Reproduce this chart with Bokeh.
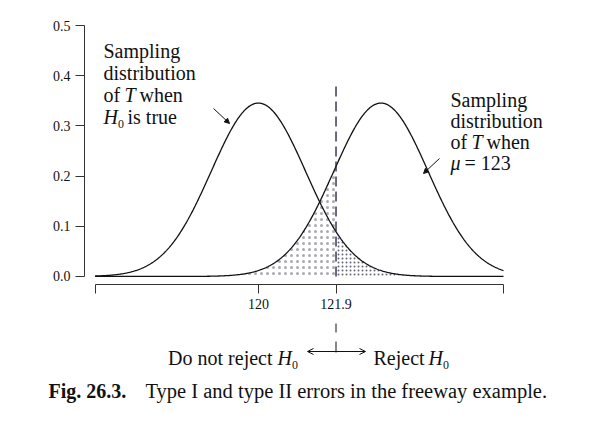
import numpy as np
from bokeh.plotting import figure
from bokeh.layouts import column
from bokeh.models import (Range1d, FixedTicker, CustomJSTickFormatter, PrintfTickFormatter,
                          Label, Arrow, OpenHead, NormalHead)
from bokeh.embed import file_html
from bokeh.resources import INLINE

# ---- data ----
means = [120.0, 123.0]          # H0 true, mu = 123
sd = 1.1547                     # sd of T (4/sqrt(12))
critical = 121.9
x_lo, x_hi = 116.0, 126.0
y_ticks = [0.0, 0.1, 0.2, 0.3, 0.4, 0.5]
x_ticks = [120.0, 121.9]
x_end_ticks = [116.0, 126.0]

FONT = "Liberation Serif"
INK = "#111111"

def pdf(x, m):
    return np.exp(-0.5 * ((x - m) / sd) ** 2) / (sd * np.sqrt(2 * np.pi))

xs = np.linspace(x_lo, x_hi, 600)
f0 = pdf(xs, means[0])
f1 = pdf(xs, means[1])

# pixel -> data helpers for annotation placement
def X(px):
    return x_lo + (px - 94.5) / 40.85

def Y(py):
    return (276.0 - py) / 501.9

p = figure(width=605, height=320, output_backend="svg", toolbar_location=None,
           x_range=Range1d(X(84), X(600)), y_range=Range1d(-0.016, 0.51),
           min_border_left=84, min_border_right=5, min_border_top=20, min_border_bottom=36)
p.frame_align = False
p.outline_line_color = None
p.xgrid.visible = False
p.ygrid.visible = False

left = xs <= critical
right = xs >= critical
p.varea(x=xs[left], y1=0, y2=f1[left], fill_alpha=0, hatch_pattern=".",
        hatch_scale=6, hatch_color="#33334a", hatch_alpha=0.42)
p.varea(x=xs[right], y1=0, y2=f0[right], fill_alpha=0, hatch_pattern=".",
        hatch_scale=4, hatch_color="#33334a", hatch_alpha=0.75)

# curves
p.line(xs, f0, line_color=INK, line_width=1.3)
p.line(xs, f1, line_color=INK, line_width=1.3)

# critical value dashed line
p.segment(x0=[critical], y0=[0], x1=[critical], y1=[0.3825], line_color="#1c1c3a",
          line_width=1.3, line_dash="10 5")

# axes
ya = p.yaxis[0]
ya.bounds = (0, 0.5)
ya.ticker = FixedTicker(ticks=y_ticks)
ya.formatter = PrintfTickFormatter(format="%.1f")
ya.major_tick_out = 9
ya.major_tick_in = 0
ya.minor_tick_line_color = None
ya.axis_line_color = "#333333"
ya.major_tick_line_color = "#333333"
ya.major_label_text_font = FONT
ya.major_label_text_font_size = "14px"
ya.major_label_text_color = INK
ya.major_label_standoff = 5

xa = p.xaxis[0]
xa.bounds = (x_lo, x_hi)
xa.ticker = FixedTicker(ticks=x_ticks, minor_ticks=x_end_ticks)
xa.formatter = CustomJSTickFormatter(code="return String(tick);")
xa.major_tick_out = 9
xa.major_tick_in = 0
xa.minor_tick_out = 9
xa.minor_tick_in = 0
xa.minor_tick_line_color = "#333333"
xa.axis_line_color = "#333333"
xa.major_tick_line_color = "#333333"
xa.major_label_text_font = FONT
xa.major_label_text_font_size = "14px"
xa.major_label_text_color = INK
xa.major_label_standoff = 5

def lab(fig, text, px, y, size="20px", style="normal", align="left"):
    fig.add_layout(Label(x=X(px), y=y, text=text, text_font=FONT, text_font_size=size,
                         text_font_style=style, text_color=INK, text_align=align,
                         text_baseline="alphabetic"))

# left annotation
lab(p, "Sampling", 103, Y(51))
lab(p, "distribution", 103, Y(73))
lab(p, "of", 103, Y(95))
lab(p, "T", 124, Y(95), style="italic")
lab(p, "when", 139, Y(95))
lab(p, "H", 103, Y(117), style="italic")
lab(p, "\u2080", 117, Y(117))
lab(p, "is true", 127, Y(117))

# right annotation
lab(p, "Sampling", 450, Y(100))
lab(p, "distribution", 450, Y(121))
lab(p, "of", 450, Y(142))
lab(p, "T", 471, Y(142), style="italic")
lab(p, "when", 486, Y(142))
lab(p, "\u03bc", 450, Y(163), style="italic")
lab(p, "= 123", 464, Y(163))

# pointer arrows
p.add_layout(Arrow(x_start=X(213), y_start=Y(108), x_end=X(229), y_end=Y(123),
                   line_color=INK, line_width=1,
                   end=NormalHead(size=5, fill_color=INK, line_color=INK)))
p.add_layout(Arrow(x_start=X(439), y_start=Y(158), x_end=X(423), y_end=Y(173),
                   line_color=INK, line_width=1,
                   end=NormalHead(size=5, fill_color=INK, line_color=INK)))

# ---- lower panel: decision rule and caption (y in canvas pixels) ----
q = figure(width=605, height=109, output_backend="svg", toolbar_location=None,
           x_range=Range1d(X(0), X(605)), y_range=Range1d(429, 320),
           x_axis_location=None, y_axis_location=None,
           min_border_left=0, min_border_right=0, min_border_top=0, min_border_bottom=0)
q.frame_align = False
q.outline_line_color = None
q.xgrid.visible = False
q.ygrid.visible = False

q.segment(x0=[critical, critical], y0=[323, 341], x1=[critical, critical], y1=[332, 352],
          line_color=INK, line_width=1)
q.add_layout(Arrow(x_start=critical, y_start=351, x_end=X(307), y_end=351,
                   line_color=INK, line_width=1, end=OpenHead(size=6, line_color=INK, line_width=1)))
q.add_layout(Arrow(x_start=critical, y_start=351, x_end=X(365), y_end=351,
                   line_color=INK, line_width=1, end=OpenHead(size=6, line_color=INK, line_width=1)))

lab(q, "Do not reject", 272, 357, align="right")
lab(q, "H", 277, 357, style="italic")
lab(q, "\u2080", 291, 357)
lab(q, "Reject", 373, 357)
lab(q, "H", 428, 357, style="italic")
lab(q, "\u2080", 442, 357)

lab(q, "Fig. 26.3.", 48, 390, size="20px", style="bold")
lab(q, "Type I and type II errors in the freeway example.", 145, 390, size="20.5px")

layout = column(p, q, spacing=0)
open("out.html", "w").write(file_html(layout, INLINE))
